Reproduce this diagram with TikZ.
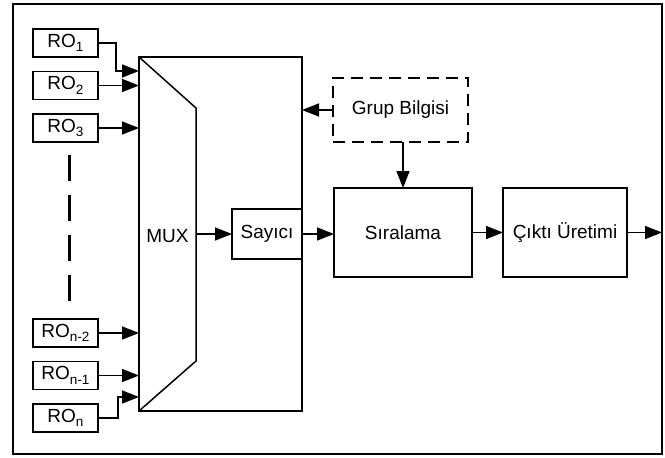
\documentclass[tikz,border=0pt]{standalone}
\usepackage{fontspec}
\setmainfont{Liberation Sans}
\usetikzlibrary{arrows.meta,calc}
\newcommand\rosub[1]{\raisebox{-4.5pt}{\fontsize{13.5}{14}\selectfont #1}}
\begin{document}
\begin{tikzpicture}[x=1pt,y=-1pt,
  font=\fontsize{19}{22}\selectfont,
  line width=1.5pt,
  every node/.style={inner sep=0pt,outer sep=0pt},
  blk/.style={draw,rectangle,line width=1.5pt},
  robox/.style={blk,minimum width=65pt,minimum height=28pt},
  conn/.style={-{Triangle[length=17pt,width=13pt]},line width=1.5pt},
  dbox/.style={draw,rectangle,dash pattern=on 12pt off 7pt,line width=1.6pt}
]
\useasboundingbox (0,0) rectangle (665,458);
% outer frame
\node[blk,line width=1.6pt,minimum width=649pt,minimum height=450pt] (frame) at (337.5,229) {};
% RO boxes
\node[robox] (ro1) at (65.5,43) {RO\rosub{1}};
\node[robox] (ro2) at (65.5,85.5) {RO\rosub{2}};
\node[robox] (ro3) at (65.5,128) {RO\rosub{3}};
\node[robox] (ron2) at (65.5,333) {RO\rosub{n-2}};
\node[robox] (ron1) at (65.5,375.5) {RO\rosub{n-1}};
\node[robox] (ron) at (65.5,418) {RO\rosub{n}};
% dashed dots
\coordinate (dtop) at (69,155);
\coordinate (dbot) at (69,303);
\draw[line width=3pt,dash pattern=on 26pt off 14pt] (dtop) -- (dbot);
% big box with mux
\node[blk,minimum width=163pt,minimum height=354pt] (big) at (220.5,234) {};
\coordinate (m1) at (139,57);
\coordinate (m2) at (196,108);
\coordinate (m3) at (196,361);
\coordinate (m4) at (139,411);
\draw (m1) -- (m2) -- (m3) -- (m4);
\node (muxlbl) at (167.5,236) {MUX};
% inputs
\coordinate (in1) at (139,71);
\coordinate (in2) at (139,85.5);
\coordinate (in3) at (139,128);
\coordinate (inn2) at (139,333);
\coordinate (inn1) at (139,375.5);
\coordinate (inn) at (139,397);
\draw[conn] (ro1.east) -- ++(18,0) |- (in1);
\draw[conn] (ro2.east) -- (in2);
\draw[conn] (ro3.east) -- (in3);
\draw[conn] (ron2.east) -- (inn2);
\draw[conn] (ron1.east) -- (inn1);
\draw[conn] (ron.east) -- ++(20,0) |- (inn);
% Sayici
\node[blk,minimum width=70pt,minimum height=50pt] (say) at (267,234) {Sayıcı};
\coordinate (muxout) at (196,234);
\draw[conn] (muxout) -- (say.west);
% Grup bilgisi
\node[dbox,minimum width=135pt,minimum height=64pt] (grup) at (400.5,110) {Grup Bilgisi};
\draw[conn] (grup.west) -- (grup.west -| big.east);
% Siralama
\node[blk,minimum width=138pt,minimum height=89pt] (sira) at (403,232.5) {Sıralama};
\draw[conn] (grup.south -| sira.north) -- (sira.north);
\draw[conn] (say.east) -- (say.east -| sira.west);
% Cikti
\node[blk,minimum width=124pt,minimum height=89pt] (cikti) at (565,232.5) {Çıktı Üretimi};
\draw[conn] (sira.east) -- (cikti.west);
\draw[conn] (cikti.east) -- (cikti.east -| frame.east);
\end{tikzpicture}
\end{document}
